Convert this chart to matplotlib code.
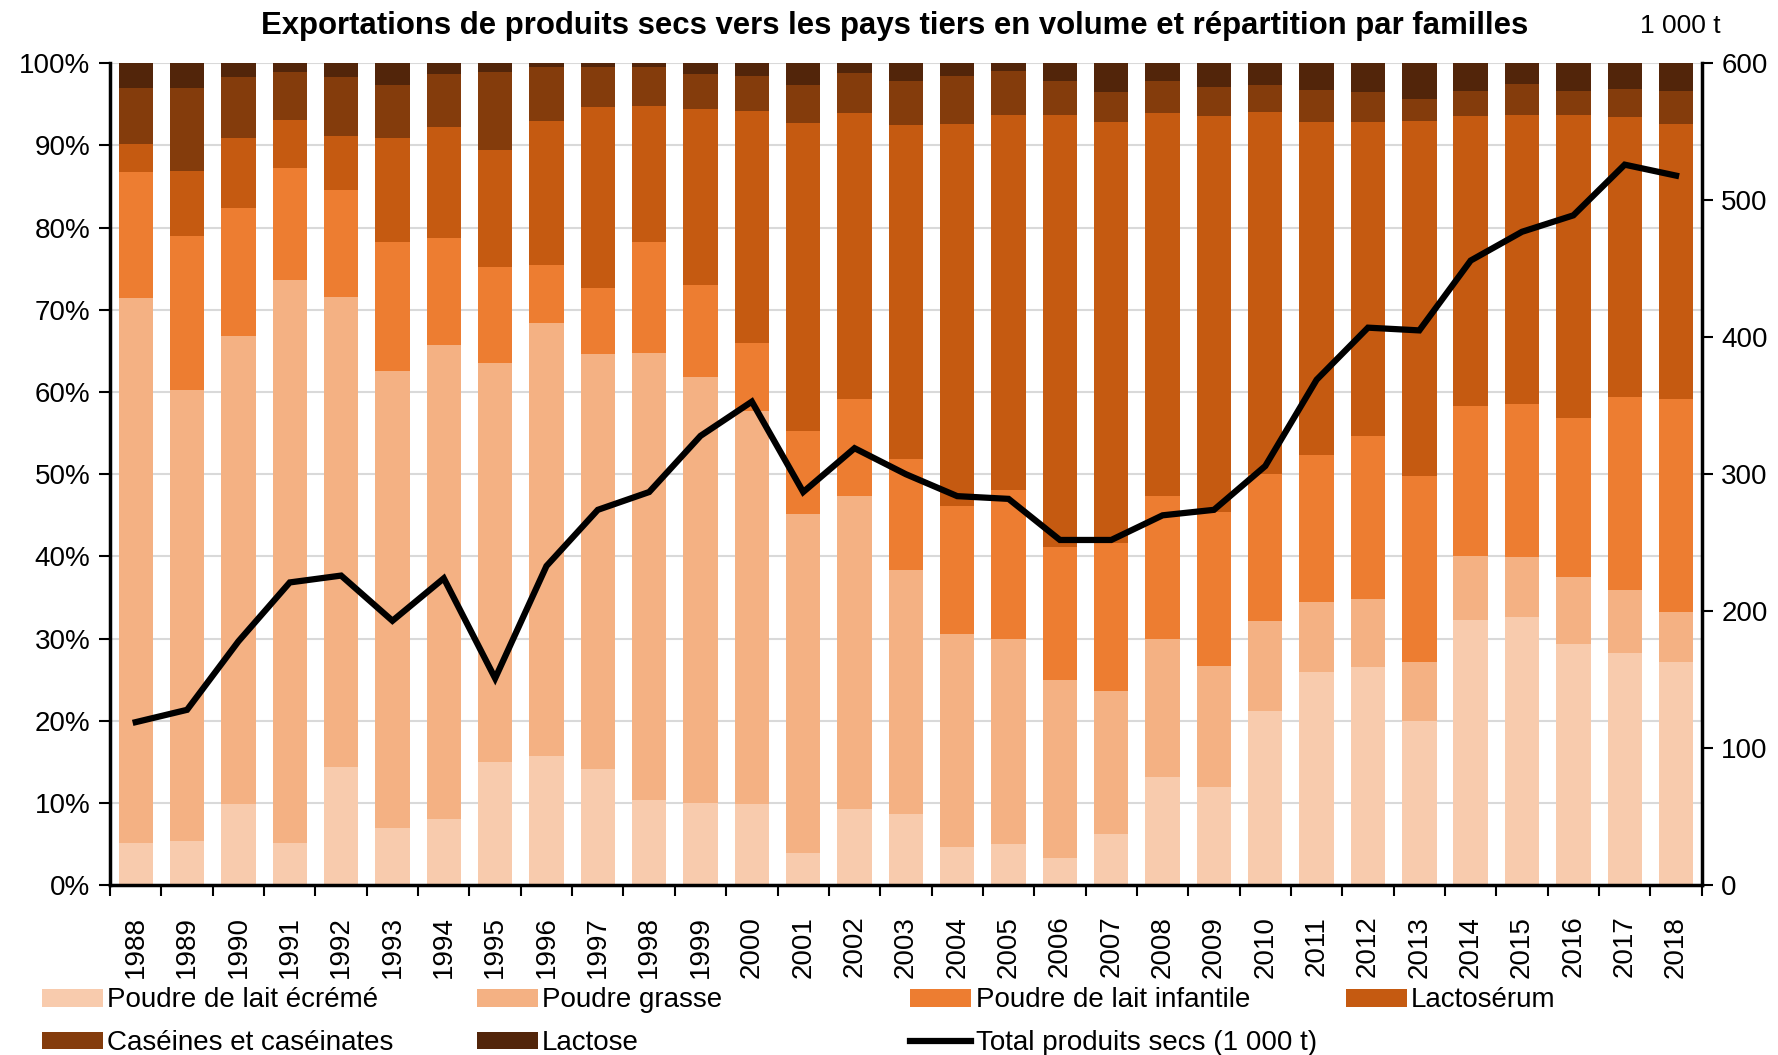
import numpy as np
import matplotlib
matplotlib.use("Agg")
import matplotlib.pyplot as plt
from matplotlib.ticker import PercentFormatter

plt.rcParams['font.family'] = ['Liberation Sans', 'DejaVu Sans']

years = ['1988', '1989', '1990', '1991', '1992', '1993', '1994', '1995', '1996', '1997',
         '1998', '1999', '2000', '2001', '2002', '2003', '2004', '2005', '2006', '2007',
         '2008', '2009', '2010', '2011', '2012', '2013', '2014', '2015', '2016', '2017', '2018']

# parts en % du volume
ecreme = [5.1, 5.4, 9.9, 5.1, 14.4, 7.0, 8.1, 15.0, 15.7, 14.1, 10.3, 10.0, 9.9, 3.9, 9.3, 8.7,
          4.7, 5.0, 3.3, 6.2, 13.1, 11.9, 21.2, 25.9, 26.6, 20.0, 32.3, 32.6, 29.4, 28.3, 27.2]
grasse = [66.3, 54.9, 56.9, 68.5, 57.2, 55.6, 57.6, 48.5, 52.7, 50.5, 54.5, 51.8, 47.8, 41.2, 38.0, 29.7,
          25.9, 25.0, 21.7, 17.4, 16.9, 14.8, 11.0, 8.5, 8.2, 7.2, 7.8, 7.3, 8.1, 7.6, 6.0]
infantile = [15.4, 18.7, 15.6, 13.7, 13.0, 15.6, 13.1, 11.7, 7.0, 8.0, 13.4, 11.2, 8.3, 10.2, 11.8, 13.5,
             15.5, 18.1, 16.1, 18.0, 17.3, 18.7, 17.8, 17.9, 19.9, 22.6, 18.2, 18.7, 19.4, 23.5, 26.0]
lactoserum = [3.4, 7.9, 8.5, 5.8, 6.6, 12.7, 13.5, 14.2, 17.6, 22.1, 16.6, 21.4, 28.2, 37.4, 34.9, 40.6,
              46.5, 45.6, 52.6, 51.3, 46.7, 48.2, 44.1, 40.5, 38.1, 43.2, 35.3, 35.1, 36.8, 34.1, 33.4]
caseines = [6.8, 10.1, 7.4, 5.9, 7.1, 6.5, 6.4, 9.5, 6.6, 4.9, 4.7, 4.3, 4.3, 4.7, 4.8, 5.4,
            5.9, 5.4, 4.2, 3.6, 3.8, 3.5, 3.2, 3.9, 3.7, 2.6, 3.0, 3.8, 2.9, 3.4, 4.0]
lactose = [3.0, 3.0, 1.7, 1.0, 1.7, 2.6, 1.3, 1.1, 0.4, 0.4, 0.5, 1.3, 1.5, 2.6, 1.2, 2.1,
           1.5, 0.9, 2.1, 3.5, 2.2, 2.9, 2.7, 3.3, 3.5, 4.4, 3.4, 2.5, 3.4, 3.1, 3.4]
# total en 1 000 t
total = [119, 128, 178, 221, 226, 193, 224, 151, 233, 274, 287, 328, 353, 287, 319, 300,
         284, 282, 252, 252, 270, 274, 306, 369, 407, 405, 456, 477, 489, 526, 518]

series = [('Poudre de lait écrémé', ecreme, '#F8CBAD'),
          ('Poudre grasse', grasse, '#F4B183'),
          ('Poudre de lait infantile', infantile, '#ED7D31'),
          ('Lactosérum', lactoserum, '#C55A11'),
          ('Caséines et caséinates', caseines, '#843C0C'),
          ('Lactose', lactose, '#52250A')]

FS = 20
fig = plt.figure(figsize=(17.78, 10.55), dpi=100)
ax = fig.add_axes([0.0619, 0.161, 0.8952, 0.779])
x = np.arange(len(years))
bottom = np.zeros(len(years))
handles = {}
for name, vals, col in series:
    v = np.array(vals)
    handles[name] = ax.bar(x, v, 0.67, bottom=bottom, color=col, zorder=2, label=name)
    bottom += v

ax.set_xlim(-0.5, len(years) - 0.5)
ax.set_ylim(0, 100)
ax.set_yticks(np.arange(0, 101, 10))
ax.yaxis.set_major_formatter(PercentFormatter(decimals=0))
ax.grid(axis='y', color='#D9D9D9', lw=1.5, zorder=0)
ax.set_xticks(x)
ax.set_xticklabels(years, rotation=90)
ax.set_xticks(np.arange(-0.5, len(years), 1), minor=True)
ax.tick_params(axis='x', which='major', length=0, pad=22, labelsize=FS)
ax.tick_params(axis='x', which='minor', length=8, width=1.5, direction='out')
ax.tick_params(axis='y', length=8, width=1.5, labelsize=FS, pad=6)
for s in ['top', 'right']:
    ax.spines[s].set_visible(False)
for s in ['left', 'bottom']:
    ax.spines[s].set_linewidth(2.5)

ax2 = ax.twinx()
line, = ax2.plot(x, total, color='black', lw=4.5, solid_joinstyle='miter', zorder=5,
                 label='Total produits secs (1 000 t)')
ax2.set_ylim(0, 600)
ax2.set_yticks(np.arange(0, 601, 100))
ax2.tick_params(axis='y', length=8, width=1.5, labelsize=FS, pad=6)
for s in ['top', 'left', 'bottom']:
    ax2.spines[s].set_visible(False)
ax2.spines['right'].set_linewidth(2.5)

fig.text(0.503, 0.975, 'Exportations de produits secs vers les pays tiers en volume et répartition par familles',
         ha='center', va='center', fontsize=22.4, fontweight='bold')
fig.text(0.968, 0.975, '1 000 t', ha='right', va='center', fontsize=19)

# légende en 4 colonnes régulières
cols = [['Poudre de lait écrémé', 'Caséines et caséinates'],
        ['Poudre grasse', 'Lactose'],
        ['Poudre de lait infantile', line],
        ['Lactosérum']]
xpos = [0.0236, 0.268, 0.512, 0.757]
for xp, items in zip(xpos, cols):
    hs, ls = [], []
    for it in items:
        if isinstance(it, str):
            hs.append(handles[it]); ls.append(it)
        else:
            hs.append(it); ls.append(it.get_label())
    fig.legend(hs, ls, loc='upper left', bbox_to_anchor=(xp, 0.064), frameon=False,
               fontsize=FS, handlelength=2.2, handleheight=0.6, handletextpad=0.15,
               labelspacing=0.6, borderaxespad=0, borderpad=0)

fig.savefig('out.png', dpi=100)
